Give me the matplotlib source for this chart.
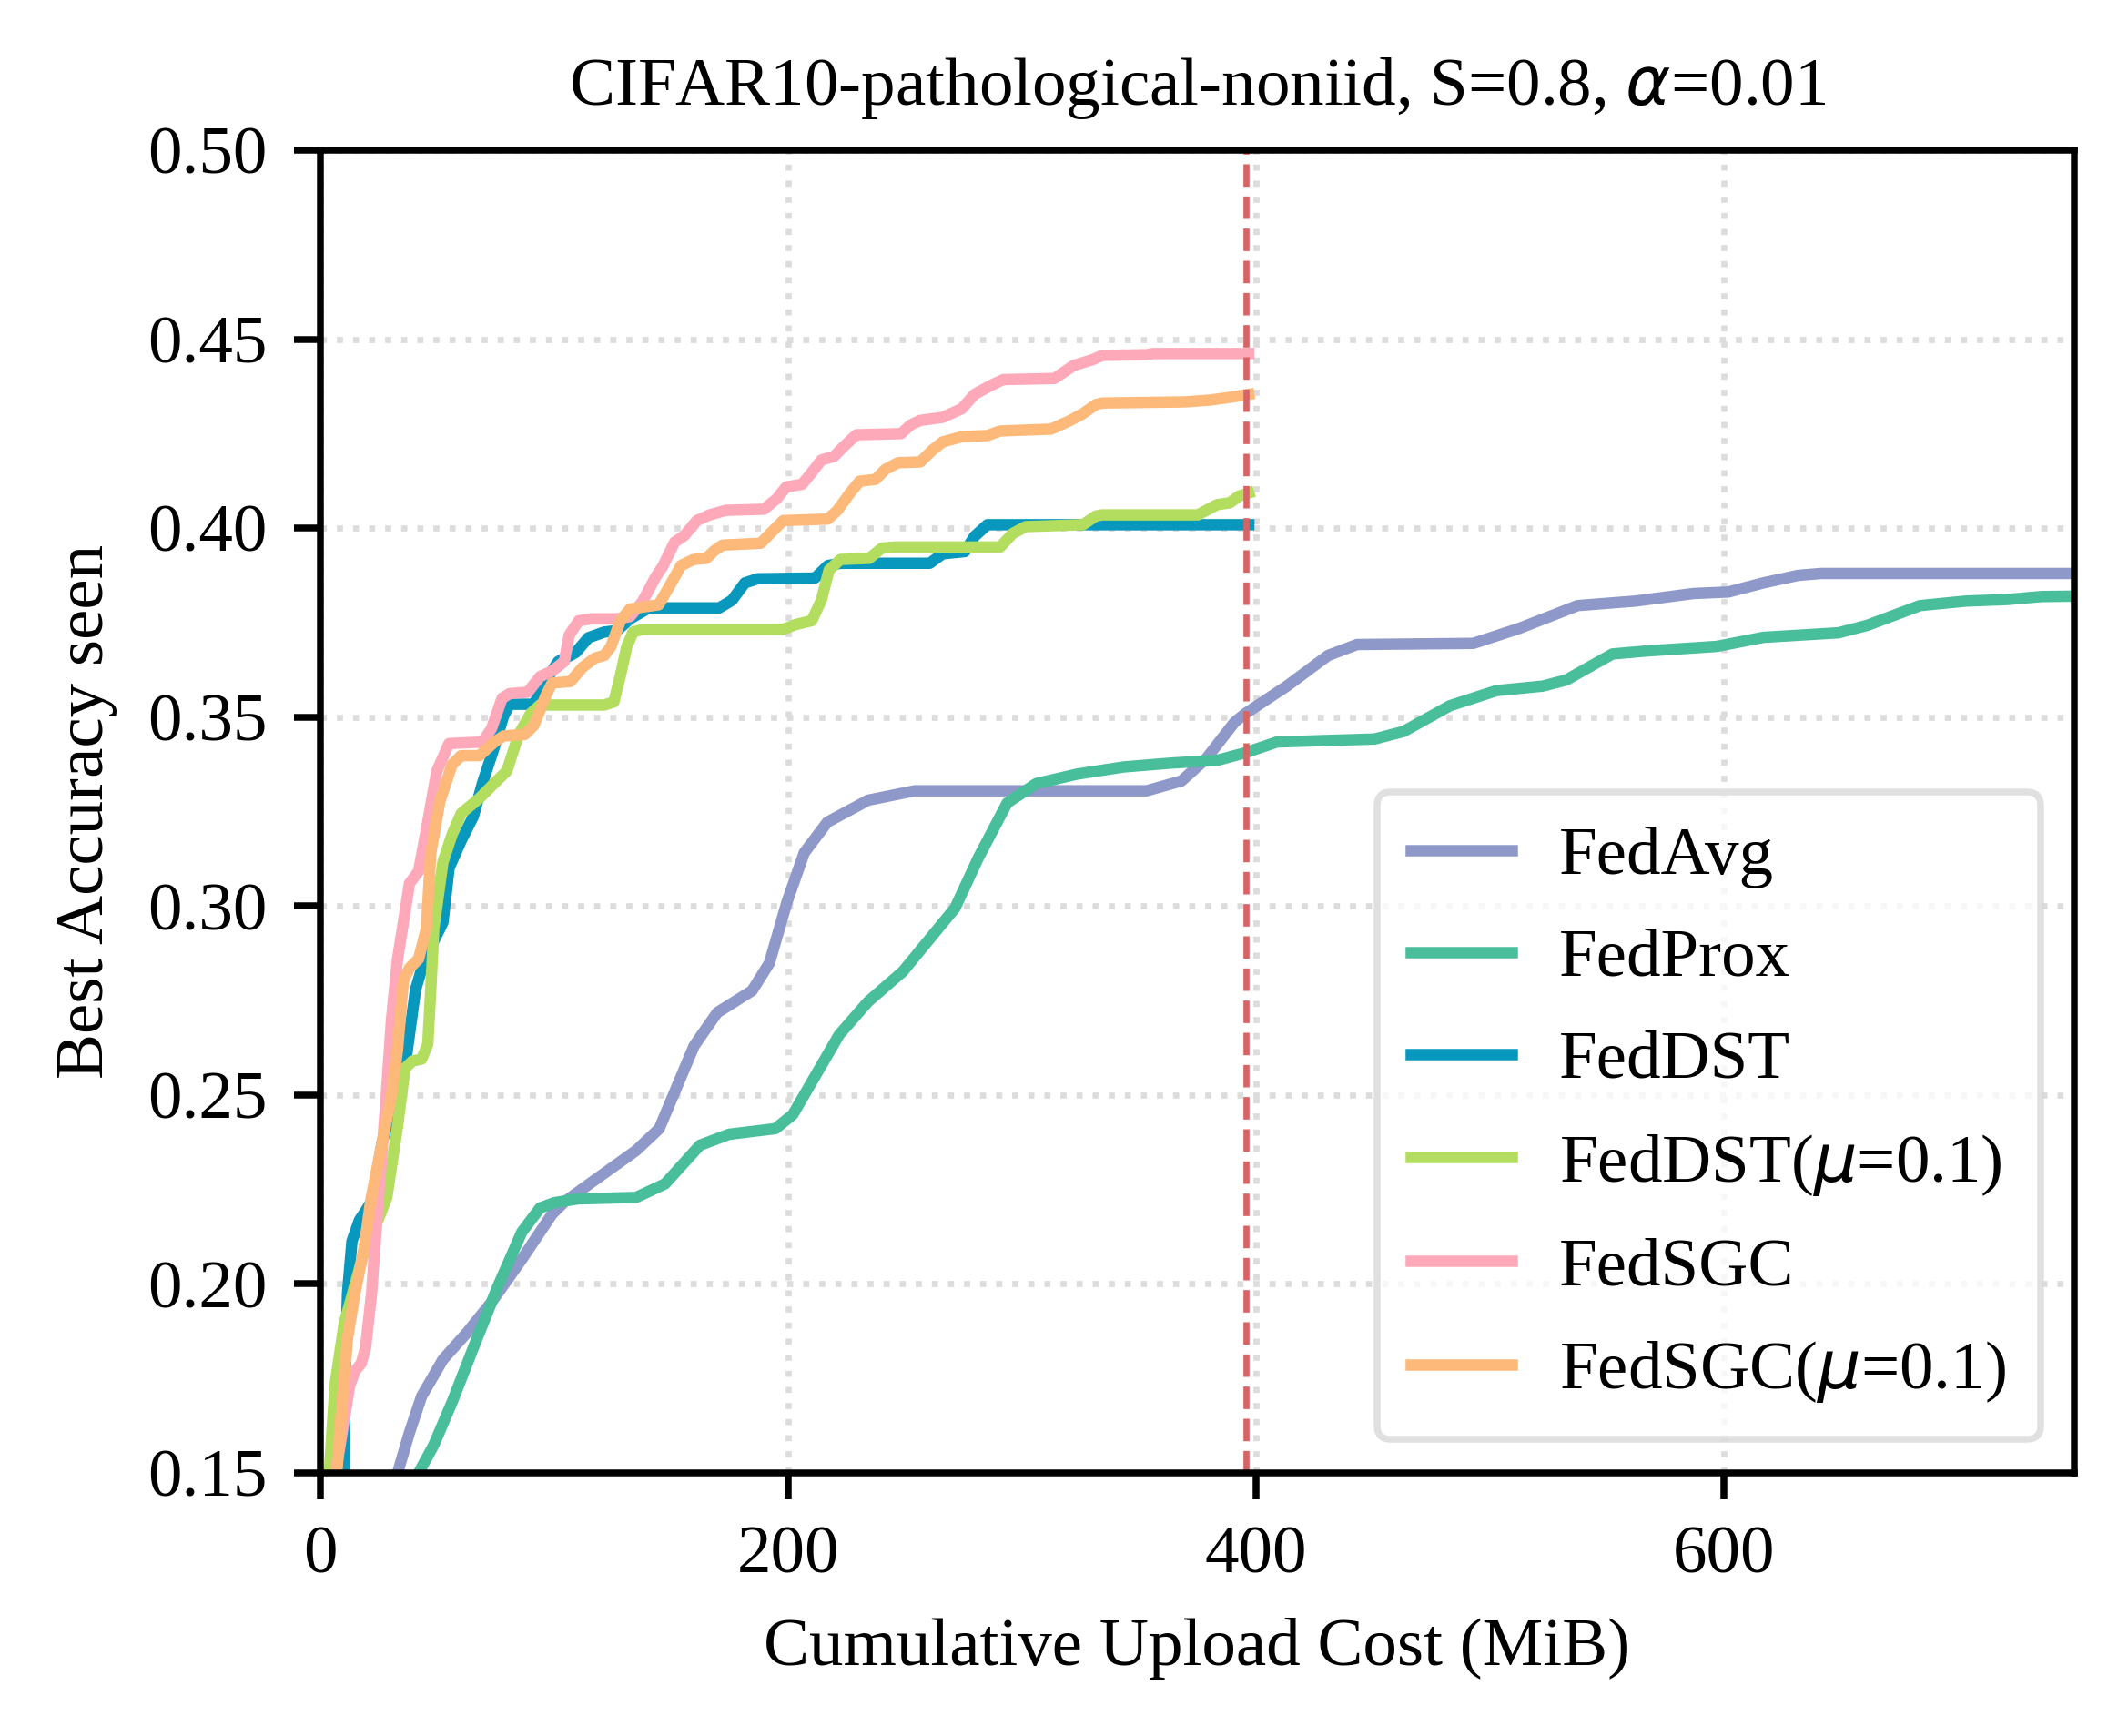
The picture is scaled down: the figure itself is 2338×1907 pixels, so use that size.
import matplotlib
matplotlib.use("Agg")
import matplotlib.pyplot as plt

plt.rcParams['font.family'] = ['Liberation Serif', 'DejaVu Serif']
plt.rcParams['mathtext.fontset'] = 'dejavusans'

fedavg_x = [33, 38.1, 43.3, 52.4, 62.8, 73.2, 86.1, 99.1, 104.3, 115.1, 135, 144.9, 159.8, 169.7, 184.6, 192, 199.5, 206.9, 216.8, 234.2, 254.1, 353.3, 368.2, 378.8, 391, 395.7, 413.5, 430.9, 443.3, 493, 512.8, 537.6, 562.4, 587.2, 602.1, 617, 631.9, 641.8, 750]
fedavg_y = [0.150, 0.1607, 0.1703, 0.180, 0.1872, 0.1952, 0.2065, 0.2185, 0.2217, 0.2265, 0.2353, 0.2411, 0.263, 0.2718, 0.2776, 0.2849, 0.301, 0.3141, 0.3222, 0.328, 0.3305, 0.3305, 0.3331, 0.339, 0.3487, 0.351, 0.3583, 0.3663, 0.3692, 0.3695, 0.3735, 0.3795, 0.3807, 0.3827, 0.3831, 0.3855, 0.3875, 0.388, 0.388]

fedprox_x = [42, 48.5, 56.3, 65.4, 75.8, 86.1, 93.9, 100, 110, 135, 147.4, 162.3, 174.7, 194.6, 202, 221.8, 234.2, 249.1, 271.4, 281.3, 293.7, 306.1, 323.5, 343.4, 363.2, 383.8, 395.7, 409, 450.8, 463.2, 483, 502.9, 522.7, 532.7, 552.5, 567.3, 597.1, 617, 649.2, 661.6, 684, 703.8, 721.2, 736, 750]
fedprox_y = [0.150, 0.1574, 0.1687, 0.1831, 0.1992, 0.2137, 0.2201, 0.2215, 0.2225, 0.2229, 0.2265, 0.2367, 0.2396, 0.2411, 0.2448, 0.2659, 0.2747, 0.2827, 0.2995, 0.3127, 0.3273, 0.3324, 0.3349, 0.3368, 0.3378, 0.3386, 0.3406, 0.3434, 0.3442, 0.3462, 0.353, 0.357, 0.3582, 0.3598, 0.3667, 0.3675, 0.3687, 0.3711, 0.3723, 0.3743, 0.3795, 0.3807, 0.3811, 0.3819, 0.382]

feddst_x = [10.2, 10.5, 11.6, 13.5, 16.7, 19, 22, 26.5, 30.4, 34, 36.8, 40.7, 44.6, 51.1, 52.4, 55, 60.2, 65.4, 69.3, 74.4, 78.3, 80.9, 91.3, 96.5, 101.7, 106.9, 109.2, 114.6, 121.4, 126.9, 132.4, 140.5, 170.6, 176, 181.5, 187, 211.5, 217, 222.4, 260.6, 266.1, 275.6, 279.7, 285.2, 397]
feddst_y = [0.150, 0.175, 0.1976, 0.2113, 0.2169, 0.219, 0.222, 0.2378, 0.245, 0.254, 0.2602, 0.2779, 0.286, 0.294, 0.2957, 0.310, 0.3173, 0.3237, 0.3325, 0.3421, 0.3502, 0.3534, 0.3534, 0.3598, 0.3647, 0.3663, 0.3671, 0.371, 0.3725, 0.3729, 0.376, 0.3789, 0.3789, 0.3809, 0.3855, 0.3866, 0.3868, 0.3901, 0.3907, 0.3907, 0.3932, 0.3938, 0.3978, 0.4009, 0.4009]

feddstmu_x = [3.8, 6.3, 10.2, 14, 18, 22, 26, 28.4, 33, 36.2, 39.4, 43.3, 45.9, 47.2, 48.5, 52.4, 56.3, 60.2, 68, 74.4, 79.7, 84.8, 90, 93.9, 121.4, 125.5, 128.3, 131, 133.7, 137.8, 197.9, 203.3, 210.1, 214.2, 217.5, 222.4, 234.7, 240.1, 245.6, 290.7, 296.1, 301.6, 326.1, 331.6, 334.3, 375.2, 383.4, 388.9, 392.9, 397]
feddstmu_y = [0.150, 0.1735, 0.1896, 0.198, 0.207, 0.213, 0.219, 0.2229, 0.2418, 0.2571, 0.259, 0.2595, 0.2634, 0.2779, 0.294, 0.3116, 0.3189, 0.3245, 0.3285, 0.3325, 0.3357, 0.3454, 0.351, 0.3532, 0.3532, 0.354, 0.361, 0.3686, 0.3725, 0.3732, 0.3732, 0.3745, 0.3755, 0.3809, 0.3889, 0.3917, 0.392, 0.3947, 0.395, 0.395, 0.3986, 0.4004, 0.4009, 0.4032, 0.4035, 0.4035, 0.4062, 0.4067, 0.4085, 0.4093]

fedsgc_x = [6.5, 12.5, 14.8, 17.5, 19.3, 21.9, 24.5, 27.7, 30.4, 33, 35.5, 38.1, 42, 45.9, 49.8, 55, 69.3, 73.2, 77.7, 80.9, 88.7, 93.9, 99.1, 104.3, 106.4, 110.5, 116, 126.9, 132.4, 137.8, 143.3, 146.5, 151.5, 155.6, 161, 166.5, 173.3, 189.7, 195.2, 199.2, 206, 210.1, 214.2, 219.7, 223.8, 229.2, 248.3, 252.4, 256.5, 266, 274.3, 279.7, 286.5, 292, 313.9, 322, 330.3, 334.3, 353.4, 356, 397]
fedsgc_y = [0.150, 0.173, 0.177, 0.179, 0.1831, 0.1976, 0.220, 0.2458, 0.2699, 0.286, 0.2957, 0.306, 0.3092, 0.3222, 0.3357, 0.343, 0.3434, 0.347, 0.355, 0.3562, 0.3566, 0.3607, 0.3622, 0.3647, 0.3717, 0.3755, 0.376, 0.376, 0.3766, 0.3806, 0.387, 0.390, 0.3963, 0.398, 0.402, 0.4035, 0.4047, 0.405, 0.4078, 0.4109, 0.4116, 0.4147, 0.418, 0.419, 0.4216, 0.4247, 0.425, 0.4273, 0.4285, 0.4293, 0.4316, 0.4354, 0.4377, 0.4393, 0.4396, 0.443, 0.4446, 0.4457, 0.4459, 0.4462, 0.4462]

fedsgcmu_x = [7, 8.9, 11.6, 14.8, 18.7, 21.5, 26.5, 30.4, 33, 35.5, 38.1, 42, 45.3, 47.2, 51.1, 56.3, 60.2, 68, 74.4, 78.3, 87.4, 91.3, 96.5, 99.1, 106.9, 112, 117.3, 121.4, 124.2, 128.3, 132.4, 137.8, 144.6, 148.7, 154.2, 159.6, 165, 168.4, 171.9, 188.3, 192.4, 197.9, 217, 221.1, 226.5, 230.6, 237.4, 241.5, 247, 256.5, 262, 266.1, 274.3, 285.2, 290.7, 312.5, 320.7, 326.1, 331.6, 334.3, 369.8, 380.7, 388.9, 397]
fedsgcmu_y = [0.150, 0.1655, 0.1856, 0.1976, 0.2096, 0.222, 0.2378, 0.2499, 0.262, 0.2803, 0.2836, 0.286, 0.294, 0.314, 0.3277, 0.3374, 0.3398, 0.3398, 0.3434, 0.345, 0.3454, 0.3478, 0.3558, 0.359, 0.3594, 0.3631, 0.3656, 0.3663, 0.3686, 0.3755, 0.3786, 0.3791, 0.3797, 0.384, 0.3901, 0.3917, 0.392, 0.394, 0.3955, 0.396, 0.3986, 0.402, 0.4024, 0.4047, 0.4093, 0.4124, 0.4129, 0.4155, 0.4173, 0.4175, 0.4208, 0.4228, 0.4242, 0.4245, 0.4257, 0.4262, 0.4285, 0.4303, 0.4327, 0.4331, 0.4334, 0.4339, 0.4346, 0.4354]

budget_x = 396

series = [
    ("FedAvg", fedavg_x, fedavg_y, "#8e99c9"),
    ("FedProx", fedprox_x, fedprox_y, "#48bf9a"),
    ("FedDST", feddst_x, feddst_y, "#0897bd"),
    ("FedDST($\\mu$=0.1)", feddstmu_x, feddstmu_y, "#b2dd5e"),
    ("FedSGC", fedsgc_x, fedsgc_y, "#fea9ba"),
    ("FedSGC($\\mu$=0.1)", fedsgcmu_x, fedsgcmu_y, "#fdb97a"),
]

W, H = 2338, 1907
fig = plt.figure(figsize=(W/600, H/600), dpi=600)
ax = fig.add_axes([352/W, 1-1618/H, (2279-352)/W, (1618-165)/H])

for name, xs, ys, c in series:
    ax.plot(xs, ys, color=c, lw=1.5, label=name, solid_joinstyle='round')

ax.axvline(budget_x, color="#d76464", lw=0.8, ls='--')

ax.set_xlim(0, 750)
ax.set_ylim(0.15, 0.50)
ax.set_xticks([0, 200, 400, 600])
ax.set_yticks([0.15, 0.20, 0.25, 0.30, 0.35, 0.40, 0.45, 0.50])
ax.set_yticklabels(["0.15", "0.20", "0.25", "0.30", "0.35", "0.40", "0.45", "0.50"])
ax.grid(True, ls=':', color='#dcdcdc', lw=0.8)
ax.set_axisbelow(True)
for s in ax.spines.values():
    s.set_linewidth(0.9)
ax.tick_params(labelsize=9, width=0.9, length=3.5)

ax.set_xlabel("Cumulative Upload Cost (MiB)", fontsize=9)
ax.set_ylabel("Best Accuracy seen", fontsize=9)
ax.set_title("CIFAR10-pathological-noniid, S=0.8, $\\alpha$=0.01", fontsize=9)

leg = ax.legend(loc="lower right", fontsize=9.0, handlelength=1.47, handletextpad=0.7,
                labelspacing=0.58, borderpad=0.5, fancybox=True, framealpha=0.8)
leg.get_frame().set_edgecolor("#d9d9d9")
leg.get_frame().set_linewidth(0.9)

fig.savefig("out.png", dpi=600)
